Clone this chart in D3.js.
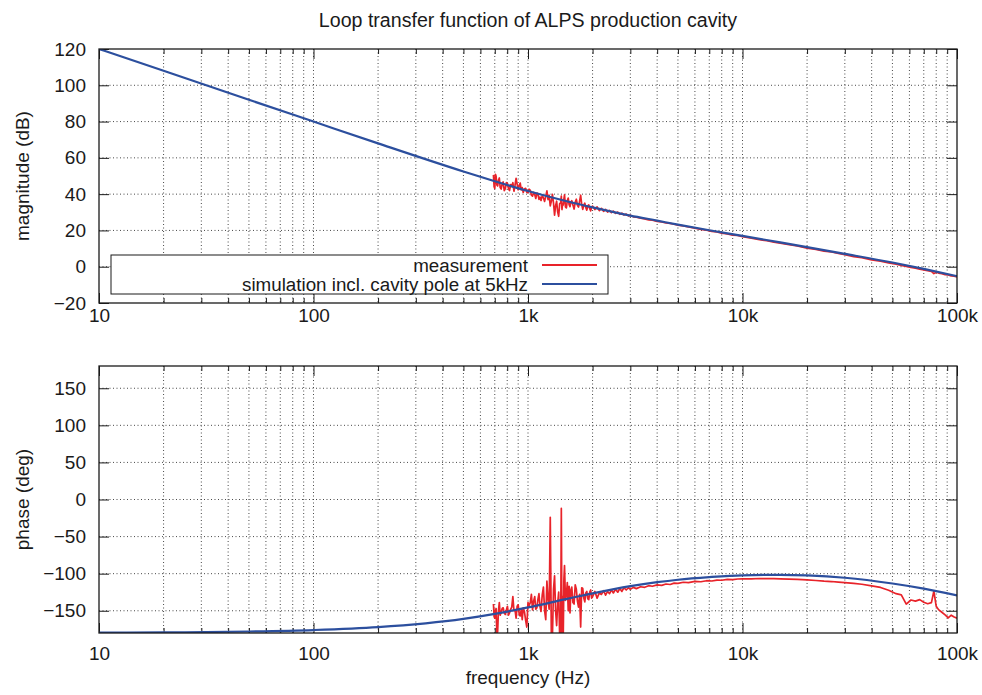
<!DOCTYPE html>
<html>
<head>
<meta charset="utf-8">
<script src="https://cdn.jsdelivr.net/npm/d3@7"></script>
<style>
  body { margin: 0; background: #fff; }
  text { font-family: "Liberation Sans", Arial, sans-serif; fill: #1a1a1a; }
</style>
</head>
<body>
<div id="canvas"></div>
<script>
const xTickValues = [10, 100, 1000, 10000, 100000];
const xTickLabels = ['10', '100', '1k', '10k', '100k'];
const magTicks = [-20, 0, 20, 40, 60, 80, 100, 120];
const phaseTicks = [-150, -100, -50, 0, 50, 100, 150];

// simulation incl. cavity pole at 5kHz
const simFreq = [10, 20, 50, 100, 200, 500, 700, 1000, 1500, 2000, 3000, 4000, 5000, 7000, 10000, 15000, 20000, 30000, 50000, 70000, 100000];
const simMag = [120.0, 108.0, 92.0, 80.0, 68.0, 52.5, 47.1, 41.7, 36.2, 32.7, 28.2, 25.4, 23.2, 20.1, 17.0, 13.4, 10.8, 7.1, 2.3, -1.2, -5.2];
const simPhase = [-179.6, -179.2, -178.0, -176.0, -172.1, -161.0, -154.2, -145.5, -134.3, -126.5, -116.8, -111.5, -108.2, -104.7, -102.2, -101.6, -102.4, -105.5, -113.3, -120.2, -129.3];

// measurement
const measFreq = [
  690, 695, 700, 705, 710, 716, 722, 728, 735, 742,
  750, 758, 766, 775, 784, 793, 802, 811, 820, 830,
  840, 850, 860, 870, 880, 890, 900, 910, 920, 930,
  940, 950, 962, 975, 987, 1000, 1012, 1025, 1037, 1050,
  1062, 1075, 1087, 1100, 1112, 1125, 1137, 1150, 1165, 1180,
  1195, 1210, 1225, 1240, 1255, 1270, 1285, 1300, 1315, 1330,
  1345, 1360, 1375, 1390, 1405, 1420, 1430, 1440, 1450, 1460,
  1470, 1480, 1495, 1510, 1525, 1540, 1555, 1570, 1585, 1600,
  1620, 1640, 1660, 1680, 1700, 1720, 1740, 1760, 1780, 1800,
  1820, 1840, 1860, 1880, 1900, 1920, 1940, 1960, 1980, 2000,
  2050, 2100, 2150, 2200, 2250, 2300, 2350, 2400, 2450, 2500,
  2560, 2620, 2680, 2740, 2800, 2870, 2940, 3000,
  3100, 3200, 3350, 3500, 3650, 3800, 4000, 4200, 4400, 4600,
  4800, 5000, 5300, 5600, 6000, 6400, 6800, 7200, 7600, 8000,
  8500, 9000, 9500, 10000, 11000, 12000, 13000, 14000, 15000, 16500,
  18000, 20000, 22000, 24000, 26000, 28000, 30000, 33000, 36000, 40000,
  44000, 48000, 52000, 55000, 58000, 61000, 64000, 67000, 70000, 73000,
  76000, 78000, 80000, 82000, 85000, 88000, 91000, 94000, 97000, 100000
];
const measMag = [
  50.6, 44.1, 43.2, 50.9, 49.8, 45.0, 44.5, 47.6, 48.9, 43.6,
  42.8, 45.8, 46.7, 41.9, 43.1, 46.4, 45.9, 43.0, 42.0, 45.2,
  44.6, 46.3, 41.6, 44.9, 48.7, 45.5, 42.4, 44.8, 46.1, 42.3,
  43.6, 40.9, 42.8, 43.2, 41.1, 40.8, 42.7, 42.1, 39.5, 38.9,
  41.0, 39.8, 37.6, 40.6, 40.2, 37.1, 38.4, 36.5, 39.1, 38.0,
  36.0, 38.7, 41.8, 37.0, 39.4, 33.5, 36.2, 39.9, 35.1, 28.4,
  33.7, 36.1, 30.2, 27.8, 34.8, 35.2, 38.9, 31.5, 34.6, 34.0,
  37.3, 39.6, 33.0, 32.4, 36.5, 37.8, 34.2, 33.1, 35.6, 36.4,
  34.0, 31.8, 35.5, 37.2, 33.9, 32.9, 36.1, 39.4, 34.3, 31.6,
  33.8, 35.0, 32.6, 31.2, 33.5, 34.1, 32.0, 30.8, 32.9, 33.4,
  31.5, 33.0, 30.9, 32.2, 30.5, 31.6, 30.1, 31.0, 29.8, 30.6,
  29.4, 30.1, 28.9, 29.5, 28.5, 29.0, 28.0, 28.4,
  27.5, 27.3, 26.7, 26.3, 25.8, 25.6, 25.0, 24.7, 24.1, 23.9,
  23.4, 22.9, 22.5, 21.9, 21.3, 20.6, 20.2, 19.5, 19.2, 18.5,
  18.1, 17.4, 17.2, 16.5, 15.8, 14.9, 14.3, 13.5, 13.0, 12.1,
  11.5, 10.2, 9.5, 8.6, 8.1, 7.3, 6.6, 5.6, 5.0, 3.8,
  3.0, 2.1, 1.4, 0.7, 0.1, -0.4, -0.8, -1.4, -1.7, -2.2,
  -2.6, -3.8, -3.0, -3.5, -3.8, -4.4, -4.5, -5.1, -5.2, -5.6
];
const measPhase = [
  -141, -158, -160, -149, -147, -182, -178, -150, -139, -156,
  -152, -147, -146, -153, -155, -149, -144, -156, -153, -148,
  -145, -131, -150, -149, -160, -144, -142, -155, -157, -148,
  -162, -146, -151, -163, -172, -139, -143, -139, -128, -149,
  -137, -131, -148, -146, -135, -127, -144, -151, -129, -118,
  -150, -162, -110, -135, -148, -24, -184, -184, -121, -103,
  -150, -170, -140, -125, -184, -184, -12, -184, -131, -184,
  -108, -89, -136, -128, -112, -150, -117, -153, -122, -118,
  -139, -141, -115, -121, -137, -145, -128, -172, -119, -120,
  -133, -138, -126, -124, -134, -135, -125, -122, -133, -131,
  -124, -133, -126, -128, -123, -129, -124, -127, -122, -126,
  -121, -125, -120, -124, -119, -122, -119, -121,
  -118.5, -120.2, -117.6, -118.4, -116.2, -117.0, -115.1, -115.8, -113.9, -114.6,
  -112.8, -113.1, -111.6, -112.0, -110.4, -110.9, -109.5, -109.9, -108.6, -108.9,
  -107.8, -108.1, -107.2, -107.0, -106.9, -106.5, -106.8, -106.6, -107.0, -107.3,
  -107.8, -108.5, -109.2, -110.1, -110.6, -111.4, -112.0, -113.2, -114.3, -116.5,
  -118.6, -122.4, -127.0, -128.5, -141.0, -135.5, -137.0, -135.0, -138.5, -140.5,
  -139.0, -123.5, -144.0, -148.5, -152.0, -155.5, -159.5, -156.0, -158.5, -160.0
];

const w = 982;
const h = 695;
const left = 99;
const right = 957;
const fontSize = 19;
const red = '#e8232a';
const blue = '#2c4f9e';

const svg = d3.select('#canvas')
  .append('svg')
  .attr('width', w)
  .attr('height', h);

svg.append('text')
  .attr('x', (left + right) / 2)
  .attr('y', 27)
  .attr('text-anchor', 'middle')
  .attr('font-size', 19.6)
  .text('Loop transfer function of ALPS production cavity');

const xScale = d3.scaleLog().domain([10, 100000]).range([left, right]);
const minorX = xScale.ticks().filter(d => xTickValues.indexOf(d) < 0);

function drawPanel(p, idx) {
  const yScale = d3.scaleLinear().domain(p.domain).range([p.bottom, p.top]);
  const g = svg.append('g');

  g.append('clipPath')
    .attr('id', 'clip' + idx)
    .append('rect')
    .attr('x', left)
    .attr('y', p.top)
    .attr('width', right - left)
    .attr('height', p.bottom - p.top);

  // grid
  const grid = g.append('g')
    .attr('stroke', '#333')
    .attr('stroke-width', 0.9)
    .attr('stroke-dasharray', '1,2.5');
  grid.selectAll('.vg')
    .data(xScale.ticks().filter(d => d > 10 && d < 100000))
    .enter()
    .append('line')
    .attr('x1', d => xScale(d))
    .attr('x2', d => xScale(d))
    .attr('y1', p.top)
    .attr('y2', p.bottom);
  grid.selectAll('.hg')
    .data(p.ticks.filter(d => d > p.domain[0] && d < p.domain[1]))
    .enter()
    .append('line')
    .attr('x1', left)
    .attr('x2', right)
    .attr('y1', d => yScale(d))
    .attr('y2', d => yScale(d));

  // ticks
  const tickG = g.append('g').attr('color', '#1a1a1a');
  const styleAxis = sel => {
    sel.select('.domain').remove();
    sel.attr('font-size', fontSize).attr('font-family', null);
    sel.selectAll('line').attr('stroke-width', 1);
  };
  tickG.append('g')
    .attr('transform', 'translate(0,' + p.bottom + ')')
    .call(d3.axisBottom(xScale).tickValues(xTickValues).tickFormat((d, i) => xTickLabels[i]).tickSize(-10).tickPadding(p.xPad))
    .call(styleAxis);
  tickG.append('g')
    .attr('transform', 'translate(0,' + p.bottom + ')')
    .call(d3.axisBottom(xScale).tickValues(minorX).tickFormat('').tickSize(-5))
    .call(styleAxis);
  tickG.append('g')
    .attr('transform', 'translate(0,' + p.top + ')')
    .call(d3.axisTop(xScale).tickValues(xTickValues).tickFormat('').tickSize(-10))
    .call(styleAxis);
  tickG.append('g')
    .attr('transform', 'translate(0,' + p.top + ')')
    .call(d3.axisTop(xScale).tickValues(minorX).tickFormat('').tickSize(-5))
    .call(styleAxis);
  tickG.append('g')
    .attr('transform', 'translate(' + left + ',0)')
    .call(d3.axisLeft(yScale).tickValues(p.ticks).tickSize(-10).tickPadding(13))
    .call(styleAxis);
  tickG.append('g')
    .attr('transform', 'translate(' + right + ',0)')
    .call(d3.axisRight(yScale).tickValues(p.ticks).tickFormat('').tickSize(-10))
    .call(styleAxis);

  // curves
  const plot = g.append('g').attr('clip-path', 'url(#clip' + idx + ')').attr('fill', 'none');
  const line = d3.line().x(d => xScale(d[0])).y(d => yScale(d[1]));
  plot.append('path')
    .datum(measFreq.map((f, i) => [f, p.meas[i]]))
    .attr('d', line)
    .attr('stroke', red)
    .attr('stroke-width', 1.7)
    .attr('stroke-linejoin', 'round');
  plot.append('path')
    .datum(simFreq.map((f, i) => [f, p.sim[i]]))
    .attr('d', line.curve(d3.curveMonotoneX))
    .attr('stroke', blue)
    .attr('stroke-width', 2.2);

  // y label
  svg.append('text')
    .attr('transform', 'translate(29,' + ((p.top + p.bottom) / 2) + ') rotate(-90)')
    .attr('text-anchor', 'middle')
    .attr('font-size', fontSize)
    .text(p.label);

  // border
  g.append('rect')
    .attr('x', left)
    .attr('y', p.top)
    .attr('width', right - left)
    .attr('height', p.bottom - p.top)
    .attr('fill', 'none')
    .attr('stroke', '#1a1a1a')
    .attr('stroke-width', 1.3);

  return g;
}

const magPanel = drawPanel({
  top: 49, bottom: 303, domain: [-20, 120], ticks: magTicks,
  sim: simMag, meas: measMag, label: 'magnitude (dB)', xPad: 6
}, 0);

drawPanel({
  top: 366, bottom: 633, domain: [-180, 180], ticks: phaseTicks,
  sim: simPhase, meas: measPhase, label: 'phase (deg)', xPad: 14
}, 1);

// legend
const legend = magPanel.append('g');
legend.append('rect')
  .attr('x', 111)
  .attr('y', 255)
  .attr('width', 497)
  .attr('height', 39)
  .attr('fill', '#fff')
  .attr('stroke', '#1a1a1a')
  .attr('stroke-width', 1);
const legendItems = [['measurement', red], ['simulation incl. cavity pole at 5kHz', blue]];
legendItems.forEach((d, i) => {
  legend.append('text')
    .attr('x', 528)
    .attr('y', 271.5 + i * 19)
    .attr('text-anchor', 'end')
    .attr('font-size', 18.8)
    .text(d[0]);
  legend.append('line')
    .attr('x1', 542)
    .attr('x2', 597)
    .attr('y1', 265 + i * 19)
    .attr('y2', 265 + i * 19)
    .attr('stroke', d[1])
    .attr('stroke-width', 2);
});

svg.append('text')
  .attr('x', (left + right) / 2)
  .attr('y', 684)
  .attr('text-anchor', 'middle')
  .attr('font-size', fontSize)
  .text('frequency (Hz)');
</script>
</body>
</html>
